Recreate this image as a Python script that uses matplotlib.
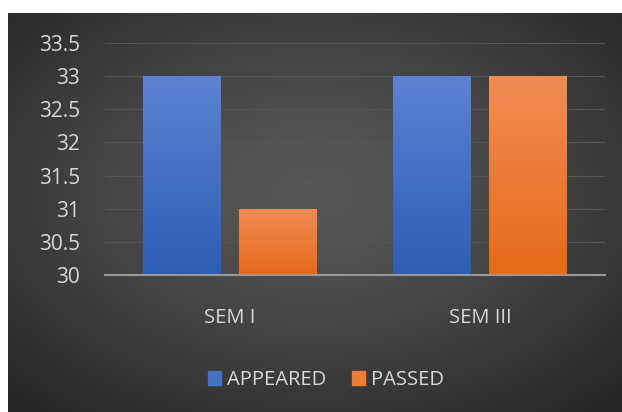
import numpy as np
import matplotlib.pyplot as plt
from matplotlib.patches import Patch

categories = ['SEM I', 'SEM III']
appeared = [33, 33]
passed = [31, 33]
yticks = [30, 30.5, 31, 31.5, 32, 32.5, 33, 33.5]

plt.rcParams['font.family'] = ['Open Sans', 'DejaVu Sans']
txt = '#d9d9d9'

fig = plt.figure(figsize=(6.22, 4.12), dpi=100, facecolor='white')

# dark panel with radial gradient
bg = fig.add_axes([8 / 622, 0, 614 / 622, 399 / 412], zorder=0)
yy, xx = np.mgrid[0:1:300j, 0:1:400j]
r = np.sqrt(((xx - 0.5) / 0.75) ** 2 + ((yy - 0.45) / 0.75) ** 2)
r = np.clip(r / 0.95, 0, 1)
shade = 0.345 - (0.345 - 0.15) * r ** 1.3
bg.imshow(np.dstack([shade] * 3), aspect='auto', extent=[0, 1, 0, 1])
bg.axis('off')

ax = fig.add_axes([105 / 622, 1 - 275 / 412, 500 / 622, 232 / 412], zorder=1)
ax.set_facecolor('none')

x = np.arange(len(categories))
w = 0.312
off = 0.192


def grad_bars(xs, vals, top, bottom):
    bars = ax.bar(xs, np.array(vals) - 30, w, bottom=30, color='none', zorder=3)
    top = np.array(plt.matplotlib.colors.to_rgb(top))
    bottom = np.array(plt.matplotlib.colors.to_rgb(bottom))
    t = np.linspace(0, 1, 100)[:, None]
    g = (top * (1 - t) + bottom * t)[:, None, :]
    for b in bars:
        x0, y0 = b.get_x(), b.get_y()
        im = ax.imshow(g, aspect='auto', zorder=3,
                       extent=[x0, x0 + b.get_width(), y0, y0 + b.get_height()])
        im.set_clip_path(b)
    return bars


grad_bars(x - off, appeared, '#5b83d0', '#2e5db5')
grad_bars(x + off, passed, '#f18c55', '#e66a18')

ax.set_xlim(-0.5, 1.5)
ax.set_ylim(30, 33.5)
ax.set_yticks(yticks)
ax.set_yticklabels(['30', '30.5', '31', '31.5', '32', '32.5', '33', '33.5'])
ax.set_xticks(x)
ax.set_xticklabels(categories)
ax.tick_params(axis='y', length=0, pad=18, labelsize=15, labelcolor=txt)
ax.tick_params(axis='x', length=0, pad=24, labelsize=14.5, labelcolor=txt)
ax.grid(axis='y', color='#555555', linewidth=0.8, zorder=1)
for s in ['top', 'right', 'left']:
    ax.spines[s].set_visible(False)
ax.spines['bottom'].set_color('#9a9a9a')
ax.spines['bottom'].set_linewidth(1.5)
ax.spines['bottom'].set_zorder(4)

handles = [Patch(color='#4472c4', label='APPEARED'),
           Patch(color='#ed7d31', label='PASSED')]
leg = fig.legend(handles=handles, loc='center', bbox_to_anchor=(326 / 622, 1 - 380 / 412),
                 ncol=2, frameon=False, fontsize=14.5, handlelength=0.65, handleheight=0.65,
                 handletextpad=0.3, columnspacing=1.3)
for t in leg.get_texts():
    t.set_color(txt)

fig.savefig('out.png', dpi=100, facecolor='white')
